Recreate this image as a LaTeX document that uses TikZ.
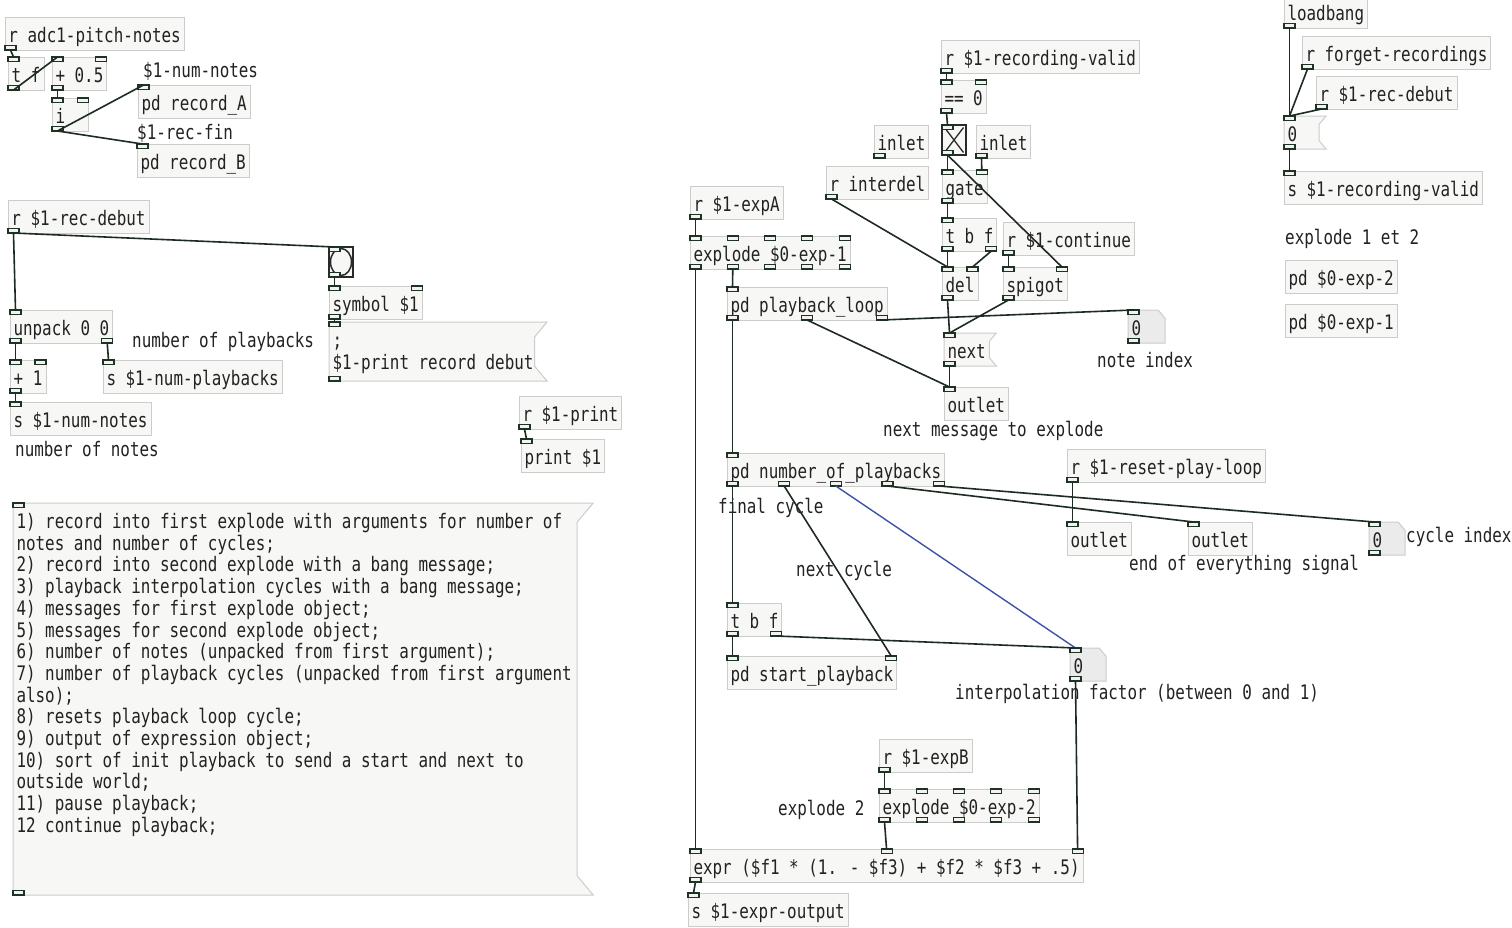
\documentclass[tikz,border=0pt]{standalone}
\usepackage{fontspec}
\newfontfamily\pdfont{DejaVu Sans Mono}[FakeStretch=0.795]
\usetikzlibrary{calc,backgrounds}

\definecolor{boxline}{HTML}{CCCCCC}
\definecolor{boxfill}{HTML}{F7F7F5}
\definecolor{numfill}{HTML}{EBEBEB}
\definecolor{portline}{HTML}{1E3325}
\definecolor{portfill}{HTML}{F2F2EE}
\definecolor{wirecol}{HTML}{1E2B22}
\definecolor{bluewire}{HTML}{3A55A6}
\definecolor{guiline}{HTML}{2A2A2A}
\definecolor{txt}{HTML}{222222}

\newcommand{\pdtext}{\pdfont\fontsize{20pt}{21.7pt}\selectfont}

% inlets (#2) and outlets (#3) of node #1, spread over its width
\newcommand{\ports}[3]{%
  \ifnum#2>0
    \foreach \k in {1,...,#2}{%
      \path let \p1=(#1.north west), \p2=(#1.north east),
        \n1={(\k-1)*(\x2-\x1-11pt)/max(#2-1,1)} in
        (\x1+\n1+5.5pt,\y1) coordinate (#1-i\k);
      \draw[port] ([xshift=-5.5pt]#1-i\k) rectangle ++(11pt,-4.5pt);
    }%
  \fi
  \ifnum#3>0
    \foreach \k in {1,...,#3}{%
      \path let \p1=(#1.south west), \p2=(#1.south east),
        \n1={(\k-1)*(\x2-\x1-11pt)/max(#3-1,1)} in
        (\x1+\n1+5.5pt,\y1) coordinate (#1-o\k);
      \draw[port] ([xshift=-5.5pt]#1-o\k) rectangle ++(11pt,4.5pt);
    }%
  \fi}

% message box outline with the notch on the right
\newcommand{\msgframe}[3]{%
  \begin{scope}[on background layer]
    \draw[draw=boxline, fill=boxfill, line width=1pt] (#1.north west) -- (#1.north east)
      -- ([xshift=-#2pt,yshift=-#3pt]#1.north east) -- ([xshift=-#2pt,yshift=#3pt]#1.south east)
      -- (#1.south east) -- (#1.south west) -- cycle;
  \end{scope}}

% number box outline with the cut corner
\newcommand{\numframe}[3]{%
  \begin{scope}[on background layer]
    \draw[draw=boxline, fill=numfill, line width=1pt] (#1.north west) -- ([xshift=-#2pt]#1.north east)
      -- ([yshift=-#3pt]#1.north east) -- (#1.south east) -- (#1.south west) -- cycle;
  \end{scope}}

\begin{document}
\begin{tikzpicture}[
  x=1pt, y=-1pt,
  obj/.style={draw=boxline, fill=boxfill, line width=1pt, anchor=north west, outer sep=0pt,
    inner xsep=3.5pt, inner ysep=0pt, minimum width=36pt, minimum height=33pt,
    text height=19pt, text depth=1pt, font=\pdtext, text=txt},
  msg/.style={obj, draw=none, fill=none},
  num/.style={obj, draw=none, fill=none},
  gui/.style={draw=guiline, fill=boxfill, line width=1.5pt, anchor=north west, outer sep=0pt,
    inner sep=0pt, minimum width=24pt, minimum height=30pt},
  note/.style={anchor=base west, inner sep=0pt, font=\pdtext, text=txt},
  port/.style={draw=portline, fill=portfill, line width=1.1pt},
  wire/.style={draw=wirecol, line width=1.6pt},
  bwire/.style={draw=bluewire, line width=1.4pt}
]
\useasboundingbox (0,0) rectangle (1512,927);
\begin{scope}[on background layer]
  \fill[white] (0,0) rectangle (1512,927);
\end{scope}

% pitch notes
\node[obj] (adc) at (5,17) {r adc1-pitch-notes};
\node[obj] (tf) at (8,57) {t f};
\node[obj] (addhalf) at (52,57) {+ 0.5};
\node[obj] (int) at (52,98) {i\kern19.5pt};
\node[note] (numnotesA) at (143,77) {\$1-num-notes};
\node[obj] (recA) at (138,85) {pd record\_A};
\node[note] (recfin) at (137,139) {\$1-rec-fin};
\node[obj] (recB) at (137,144) {pd record\_B};

% rec debut
\node[obj] (recdeb) at (8,200) {r \$1-rec-debut};
\node[gui] (bang) at (329,247) {};
\draw[draw=guiline, line width=1.5pt] (bang.center) ellipse (10.5pt and 13.5pt);
\node[obj] (sym) at (329,286) {symbol \$1};
\node[msg, text depth=27pt, minimum height=59pt] (printmsg) at (329,322)
  {\vtop{\hbox{;}\hbox{\$1-print record debut}}\kern10pt};
\msgframe{printmsg}{12.3}{14.7}
\node[obj] (unpack) at (10,310) {unpack 0 0};
\node[note] (cplay) at (132,347) {number of playbacks};
\node[obj] (plusone) at (10,360) {+ 1};
\node[obj] (snplay) at (103,360) {s \$1-num-playbacks};
\node[obj] (snnotes) at (10,402) {s \$1-num-notes};
\node[note] (cnotes) at (15,456) {number of notes};
\node[obj] (rprint) at (519,396) {r \$1-print};
\node[obj] (print) at (521,439) {print \$1};

% argument notes
\node[msg, text depth=360pt, minimum height=392pt] (notes) at (13,503)
  {\vtop{%
    \hbox{1) record into first explode with arguments for number of}
    \hbox{notes and number of cycles;}
    \hbox{2) record into second explode with a bang message;}
    \hbox{3) playback interpolation cycles with a bang message;}
    \hbox{4) messages for first explode object;}
    \hbox{5) messages for second explode object;}
    \hbox{6) number of notes (unpacked from first argument);}
    \hbox{7) number of playback cycles (unpacked from first argument}
    \hbox{also);}
    \hbox{8) resets playback loop cycle;}
    \hbox{9) output of expression object;}
    \hbox{10) sort of init playback to send a start and next to}
    \hbox{outside world;}
    \hbox{11) pause playback;}
    \hbox{12 continue playback;}}\kern18pt};
\msgframe{notes}{16}{19}

% next message chain
\node[obj] (rvalid) at (941,40) {r \$1-recording-valid};
\node[obj] (eqz) at (941,80) {== 0};
\node[gui] (tgl) at (942,125) {};
\draw[draw=guiline, line width=1.3pt] ([shift={(2.5pt,-2.5pt)}]tgl.north west) -- ([shift={(-2.5pt,2.5pt)}]tgl.south east);
\draw[draw=guiline, line width=1.3pt] ([shift={(-2.5pt,-2.5pt)}]tgl.north east) -- ([shift={(2.5pt,2.5pt)}]tgl.south west);
\node[obj] (inletL) at (874,125) {inlet};
\node[obj] (inletR) at (976,125) {inlet};
\node[obj] (rinter) at (826,166) {r interdel};
\node[obj] (gate) at (942,170) {gate};
\node[obj] (tbf) at (942,218) {t b f};
\node[obj] (rcont) at (1003,222) {r \$1-continue};
\node[obj] (del) at (942,267) {del};
\node[obj] (spigot) at (1003,267) {spigot};
\node[obj] (rexpA) at (690,186) {r \$1-expA};
\node[obj] (expl1) at (690,236) {explode \$0-exp-1};
\node[obj] (ploop) at (727,287) {pd playback\_loop};
\node[num] (nidx) at (1128,310) {0\kern20.5pt};
\numframe{nidx}{7}{8.3}
\node[note] (cidx) at (1097,367) {note index};
\node[msg] (next) at (944,333) {next\kern7pt};
\msgframe{next}{7}{8.3}
\node[obj] (outnext) at (944,387) {outlet};
\node[note] (cnext) at (883,436) {next message to explode};

% recording valid
\node[obj] (loadbang) at (1284,-5) {loadbang};
\node[obj] (rforget) at (1302,36) {r forget-recordings};
\node[obj] (rrecdeb) at (1316,76) {r \$1-rec-debut};
\node[msg] (zero) at (1284,116) {0\kern25.5pt};
\msgframe{zero}{7}{8.3}
\node[obj] (svalid) at (1284,171) {s \$1-recording-valid};
\node[note] (cexpl) at (1285,244) {explode 1 et 2};
\node[obj] (pdexpB) at (1285,260) {pd \$0-exp-2};
\node[obj] (pdexpA) at (1285,304) {pd \$0-exp-1};

% playbacks
\node[obj] (nplay) at (727,453) {pd number\_of\_playbacks};
\node[note] (cfinal) at (718,513) {final cycle};
\node[note] (cncycle) at (796,576) {next cycle};
\node[obj] (tbfB) at (727,603) {t b f};
\node[obj] (startpb) at (727,656) {pd start\_playback};
\node[num] (ninterp) at (1070,648) {0\kern19.5pt};
\numframe{ninterp}{7}{8.3}
\node[note] (cinterp) at (955,699) {interpolation factor (between 0 and 1)};
\node[obj] (rreset) at (1067,449) {r \$1-reset-play-loop};
\node[obj] (outA) at (1067,522) {outlet};
\node[obj] (outB) at (1188,522) {outlet};
\node[note] (cend) at (1129,570) {end of everything signal};
\node[num] (ncycle) at (1369,522) {0\kern19.5pt};
\numframe{ncycle}{7}{8.3}
\node[note] (ccycle) at (1406,542) {cycle index};

% expression
\node[obj] (rexpB) at (879,739) {r \$1-expB};
\node[note] (cexpB) at (778,815) {explode 2};
\node[obj] (expl2) at (879,789) {explode \$0-exp-2};
\node[obj] (expr) at (690,849) {expr (\$f1 * (1. - \$f3) + \$f2 * \$f3 + .5)};
\node[obj] (sexpr) at (688,893) {s \$1-expr-output};

% ports
\ports{adc}{0}{1} \ports{tf}{1}{1} \ports{addhalf}{2}{1} \ports{int}{2}{1}
\ports{recA}{1}{0} \ports{recB}{1}{0}
\ports{recdeb}{0}{1} \ports{bang}{1}{1} \ports{sym}{2}{1} \ports{printmsg}{1}{1}
\ports{unpack}{1}{2} \ports{plusone}{2}{1} \ports{snplay}{1}{0} \ports{snnotes}{1}{0}
\ports{rprint}{0}{1} \ports{print}{1}{0} \ports{notes}{1}{1}
\ports{rvalid}{0}{1} \ports{eqz}{2}{1} \ports{tgl}{1}{1} \ports{inletL}{0}{1} \ports{inletR}{0}{1}
\ports{rinter}{0}{1} \ports{gate}{2}{1} \ports{tbf}{1}{2} \ports{rcont}{0}{1}
\ports{del}{2}{1} \ports{spigot}{2}{1} \ports{rexpA}{0}{1} \ports{expl1}{5}{5}
\ports{ploop}{1}{3} \ports{nidx}{1}{1} \ports{next}{1}{1} \ports{outnext}{1}{0}
\ports{loadbang}{0}{1} \ports{rforget}{0}{1} \ports{rrecdeb}{0}{1} \ports{zero}{1}{1} \ports{svalid}{1}{0}
\ports{nplay}{1}{5} \ports{tbfB}{1}{2} \ports{startpb}{2}{0} \ports{ninterp}{1}{1}
\ports{rreset}{0}{1} \ports{outA}{1}{0} \ports{outB}{1}{0} \ports{ncycle}{1}{1}
\ports{rexpB}{0}{1} \ports{expl2}{5}{5} \ports{expr}{3}{1} \ports{sexpr}{1}{0}

% connections
\draw[wire] (adc-o1) -- (tf-i1);
\draw[wire] (tf-o1) -- (addhalf-i1);
\draw[wire] (addhalf-o1) -- (int-i1);
\draw[wire] (int-o1) -- (recA-i1);
\draw[wire] (int-o1) -- (recB-i1);
\draw[wire] (recdeb-o1) -- (bang-i1);
\draw[wire] (recdeb-o1) -- (unpack-i1);
\draw[wire] (bang-o1) -- (sym-i1);
\draw[wire] (sym-o1) -- (printmsg-i1);
\draw[wire] (unpack-o1) -- (plusone-i1);
\draw[wire] (unpack-o2) -- (snplay-i1);
\draw[wire] (plusone-o1) -- (snnotes-i1);
\draw[wire] (rprint-o1) -- (print-i1);
\draw[wire] (rvalid-o1) -- (eqz-i1);
\draw[wire] (eqz-o1) -- (tgl-i1);
\draw[wire] (tgl-o1) -- (gate-i1);
\draw[wire] (tgl-o1) -- (spigot-i2);
\draw[wire] (inletR-o1) -- (gate-i2);
\draw[wire] (gate-o1) -- (tbf-i1);
\draw[wire] (rinter-o1) -- (del-i1);
\draw[wire] (tbf-o1) -- (del-i1);
\draw[wire] (tbf-o2) -- (del-i2);
\draw[wire] (rcont-o1) -- (spigot-i1);
\draw[wire] (del-o1) -- (next-i1);
\draw[wire] (spigot-o1) -- (next-i1);
\draw[wire] (next-o1) -- (outnext-i1);
\draw[wire] (ploop-o2) -- (outnext-i1);
\draw[wire] (ploop-o3) -- (nidx-i1);
\draw[wire] (rexpA-o1) -- (expl1-i1);
\draw[wire] (expl1-o2) -- (ploop-i1);
\draw[wire] (expl1-o1) -- (expr-i1);
\draw[wire] (ploop-o1) -- (nplay-i1);
\draw[wire] (loadbang-o1) -- (zero-i1);
\draw[wire] (rforget-o1) -- (zero-i1);
\draw[wire] (rrecdeb-o1) -- (zero-i1);
\draw[wire] (zero-o1) -- (svalid-i1);
\draw[wire] (nplay-o1) -- (tbfB-i1);
\draw[wire] (nplay-o2) -- (startpb-i2);
\draw[bwire] (nplay-o3) -- (ninterp-i1);
\draw[wire] (nplay-o4) -- (outB-i1);
\draw[wire] (nplay-o5) -- (ncycle-i1);
\draw[wire] (rreset-o1) -- (outA-i1);
\draw[wire] (tbfB-o1) -- (startpb-i1);
\draw[wire] (tbfB-o2) -- (ninterp-i1);
\draw[wire] (ninterp-o1) -- (expr-i3);
\draw[wire] (rexpB-o1) -- (expl2-i1);
\draw[wire] (expl2-o1) -- (expr-i2);
\draw[wire] (expr-o1) -- (sexpr-i1);
\end{tikzpicture}
\end{document}
